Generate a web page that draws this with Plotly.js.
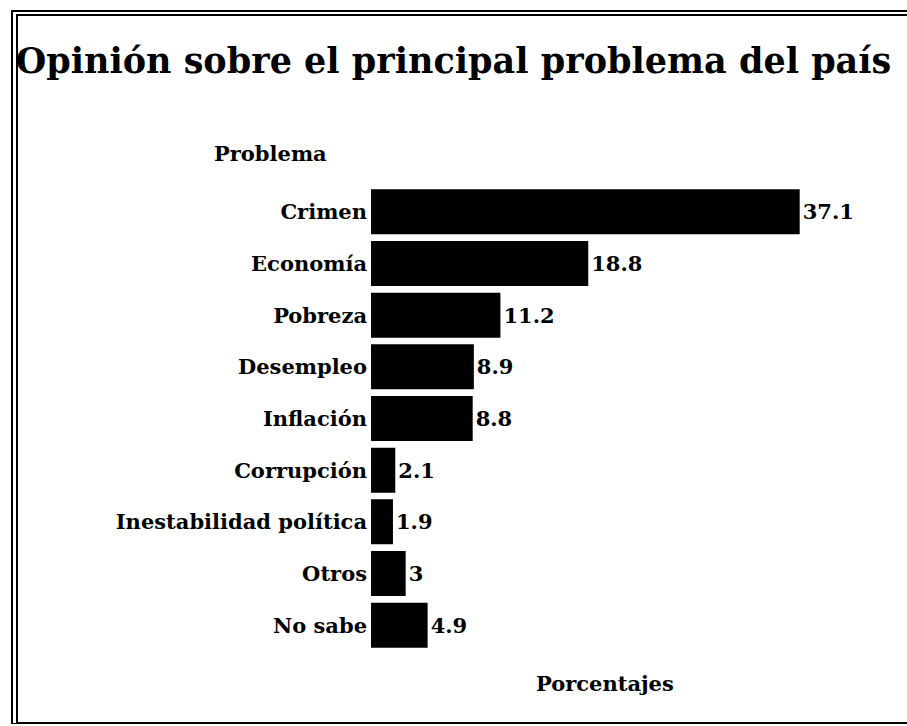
<!DOCTYPE html>
<html>
<head>
<meta charset="utf-8">
<script src="https://cdn.plot.ly/plotly-3.0.1.min.js"></script>
<style>
html,body{margin:0;padding:0;background:#fff;}
#wrap{position:absolute;left:0;top:0;width:907px;height:726px;}
#chart{position:absolute;left:0;top:0;width:907px;height:726px;}
#frame{position:absolute;left:11px;top:10px;width:910px;height:706px;border-left:7px double #000;border-top:6px double #000;border-bottom:2px solid #000;pointer-events:none;}
</style>
</head>
<body>
<div id="wrap">
<div id="chart"></div>
<div id="frame"></div>
</div>
<script>
const categories = ["Crimen","Economía","Pobreza","Desempleo","Inflación","Corrupción","Inestabilidad política","Otros","No sabe"];
const values = [37.1, 18.8, 11.2, 8.9, 8.8, 2.1, 1.9, 3, 4.9];
const valueLabels = ["37.1","18.8","11.2","8.9","8.8","2.1","1.9","3","4.9"];

const serif = "DejaVu Serif, serif";

const trace = {
  type: 'bar',
  orientation: 'h',
  x: values,
  y: categories,
  text: valueLabels,
  textposition: 'outside',
  constraintext: 'none',
  cliponaxis: false,
  textfont: {family: serif, size: 21, color: '#000', weight: 'bold'},
  marker: {color: '#000', line: {width: 0}},
  hoverinfo: 'skip'
};

const layout = {
  width: 907, height: 726,
  margin: {l: 371, r: 16, t: 186, b: 75},
  paper_bgcolor: '#fff', plot_bgcolor: '#fff',
  showlegend: false,
  bargap: 0.13,
  title: {text: 'Opinión sobre el principal problema del país', x: 0.5, xanchor: 'center', y: 0.917, yanchor: 'middle',
          font: {family: serif, size: 35, color: '#000', weight: 'bold'}},
  xaxis: {range: [0, 45], showgrid: false, zeroline: false, showline: false, showticklabels: false, ticks: '', fixedrange: true},
  yaxis: {autorange: 'reversed', showgrid: false, zeroline: false, showline: false, ticks: '', ticklabelstandoff: 3,
          tickfont: {family: serif, size: 21, color: '#000', weight: 'bold'}, fixedrange: true},
  annotations: [
    {text: 'Problema', xref: 'paper', yref: 'paper', x: -0.194, y: 1.07, xanchor: 'center', yanchor: 'middle', showarrow: false,
     font: {family: serif, size: 21, color: '#000', weight: 'bold'}},
    {text: 'Porcentajes', xref: 'paper', yref: 'paper', x: 0.45, y: -0.07, xanchor: 'center', yanchor: 'middle', showarrow: false,
     font: {family: serif, size: 21, color: '#000', weight: 'bold'}}
  ]
};

Plotly.newPlot('chart', [trace], layout, {displayModeBar: false, staticPlot: true});
</script>
</body>
</html>
